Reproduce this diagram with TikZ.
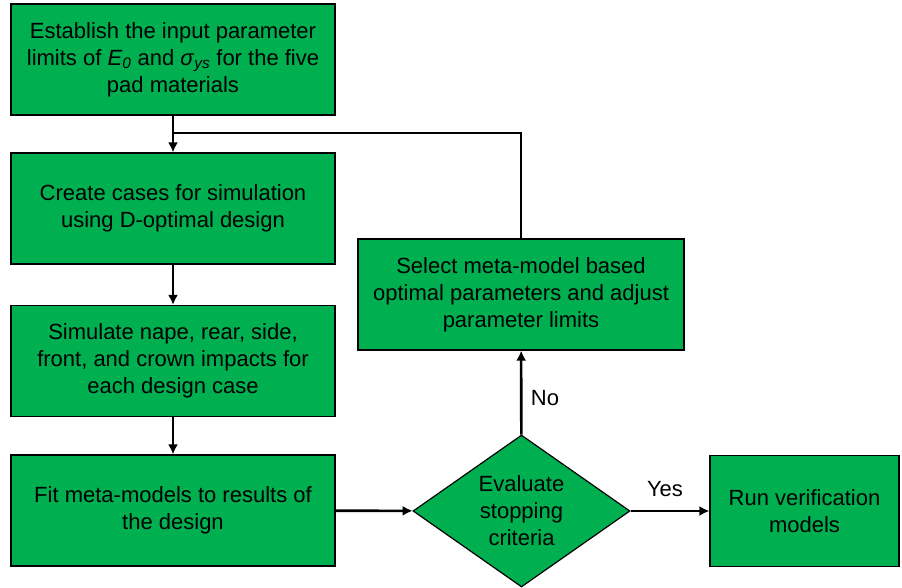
\documentclass[tikz,border=0pt]{standalone}
\usepackage{fontspec}
\setmainfont{Liberation Sans}
\usepackage{xcolor}
\usepackage{tikz}
\usetikzlibrary{arrows,arrows.meta,shapes.geometric}
\definecolor{stepgreen}{HTML}{00B050}

\begin{document}
\begin{tikzpicture}[x=1pt,y=-1pt]
		\tikzstyle{stepbox}=[draw=black, line width=1.2pt, fill=stepgreen, minimum width=324pt, minimum height=111pt, align=center, font=\fontsize{22}{27}\selectfont]
		\tikzstyle{decision}=[stepbox, diamond, minimum width=217pt, minimum height=152pt, aspect=1.43, inner sep=0pt]
		\tikzstyle{flow}=[line width=2.6pt, -{Latex[length=10pt,width=10pt]}]
		\tikzstyle{label_text}=[font=\fontsize{22}{27}\selectfont]

		\useasboundingbox (0,0) rectangle (902,588);

		% left column
		\node [stepbox] (limits) at (173,59.5) {Establish the input parameter\\limits of \textit{E}\textsubscript{\textit{0}} and \textit{σ}\textsubscript{\textit{ys}} for the five\\pad materials};
		\node [stepbox] (cases) at (173,208.5) {Create cases for simulation\\using D-optimal design};
		\node [stepbox] (simulate) at (173,361) {Simulate nape, rear, side,\\front, and crown impacts for\\each design case};
		\node [stepbox] (fit) at (173,510.5) {Fit meta-models to results of\\the design};

		% right part
		\node [stepbox, minimum width=326pt] (select) at (521,294.5) {Select meta-model based\\optimal parameters and adjust\\parameter limits};
		\node [decision] (evaluate) at (521.5,511) {Evaluate\\stopping\\criteria};
		\node [stepbox, minimum width=189pt] (verify) at (804.5,511) {Run verification\\models};

		\coordinate (join) at (173,133);

		\draw [flow] (limits) -- (cases);
		\draw [flow] (cases) -- (simulate);
		\draw [flow] (simulate) -- (fit);
		\draw [flow] (fit) -- (evaluate);
		\draw [flow] (evaluate) -- (verify);
		\draw [flow] (evaluate) -- (select);
		\draw [line width=2.6pt] (select.north) |- (join);

		\node [label_text] (no) at (545,398) {No};
		\node [label_text] (yes) at (665,489) {Yes};
	\end{tikzpicture}
\end{document}
